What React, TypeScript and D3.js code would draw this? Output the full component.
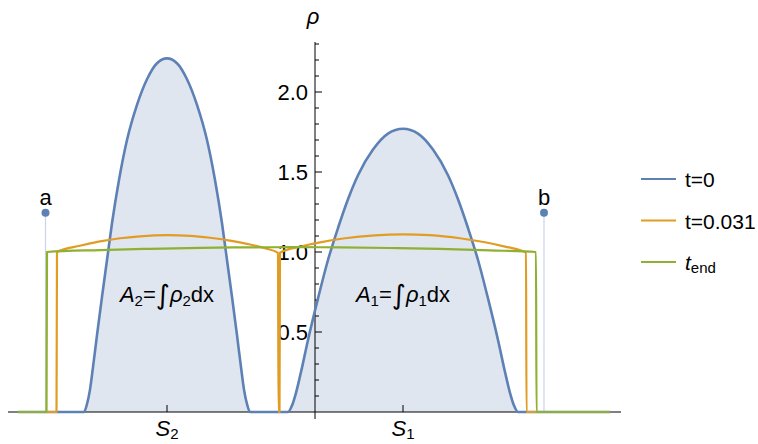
import React from "react";
import * as d3 from "d3";

// x in plot units, rho values
const blueX = [-2.97, -2.31, -2.28, -2.25, -2.22, -2.18, -2.13, -2.08, -2.03, -1.96, -1.88, -1.78, -1.68, -1.58, -1.48, -1.38, -1.28, -1.18, -1.08, -1.0, -0.93, -0.88, -0.83, -0.78, -0.74, -0.71, -0.68, -0.65,
  -0.27, -0.23, -0.19, -0.14, -0.07, 0.03, 0.13, 0.23, 0.33, 0.43, 0.58, 0.73, 0.88, 1.03, 1.18, 1.33, 1.43, 1.53, 1.63, 1.73, 1.83, 1.9, 1.95, 1.99, 2.03, 2.95];
const blueY = [0, 0, 0.05, 0.14, 0.28, 0.48, 0.72, 0.95, 1.18, 1.45, 1.7, 1.92, 2.08, 2.18, 2.21, 2.18, 2.08, 1.92, 1.7, 1.45, 1.18, 0.95, 0.72, 0.48, 0.28, 0.14, 0.05, 0,
  0, 0.04, 0.12, 0.25, 0.45, 0.71, 0.95, 1.15, 1.33, 1.48, 1.64, 1.74, 1.77, 1.74, 1.64, 1.48, 1.33, 1.15, 0.95, 0.71, 0.45, 0.25, 0.12, 0.04, 0, 0];

const orangeX = [-2.97, -2.585, -2.58, -2.35, -2.15, -1.95, -1.75, -1.475, -1.25, -1.05, -0.85, -0.65, -0.5, -0.37, -0.365, -0.355, -0.35,
  -0.15, 0.05, 0.3, 0.6, 0.88, 1.15, 1.45, 1.7, 1.9, 2.11, 2.115, 2.95];
const orangeY = [0, 0, 1.0, 1.039, 1.066, 1.086, 1.098, 1.105, 1.101, 1.089, 1.071, 1.047, 1.023, 0.995, 0, 0, 0.995,
  1.033, 1.06, 1.086, 1.104, 1.11, 1.105, 1.086, 1.061, 1.034, 0.997, 0, 0];

const greenX = [-2.97, -2.685, -2.68, -2.15, -1.65, -1.15, -0.65, -0.24, 0.25, 0.75, 1.25, 1.75, 2.21, 2.215, 2.95];
const greenY = [0, 0, 1.0, 1.012, 1.02, 1.026, 1.029, 1.03, 1.029, 1.025, 1.019, 1.01, 1.0, 0, 0];

const yTickLabels = [0.5, 1.0, 1.5, 2.0];
const sPositions = [-1.48, 0.88];
const sNames = ["2", "1"];
const markerX = [-2.695, 2.29];
const markerY = [1.245, 1.245];
const markerNames = ["a", "b"];
const legendNames = ["t=0", "t=0.031", "t_end"];

const BLUE = "#5e81b5";
const ORANGE = "#e19c24";
const GREEN = "#8fb032";
const FONT = "'Liberation Sans', Arial, Helvetica, sans-serif";

export default function App() {
  const x = d3.scaleLinear().domain([-3.07, 3.06]).range([8, 621]);
  const y = d3.scaleLinear().domain([0, 2.3]).range([412, 44]);
  const zip = (xs: number[], ys: number[]) => xs.map((v, i) => [v, ys[i]] as [number, number]);
  const line = d3.line<[number, number]>().x(d => x(d[0])).y(d => y(d[1])).curve(d3.curveMonotoneX);
  const area = d3.area<[number, number]>().x(d => x(d[0])).y0(y(0)).y1(d => y(d[1])).curve(d3.curveMonotoneX);
  const blue = zip(blueX, blueY);
  const orange = zip(orangeX, orangeY);
  const green = zip(greenX, greenY);
  const minor = d3.range(1, 24).map(i => i / 10);
  const colors = [BLUE, ORANGE, GREEN];

  return (
    <svg width={758} height={444} style={{ position: "absolute", left: 0, top: 0, fontFamily: FONT }}>
      <rect width={758} height={444} fill="#fff" />
      <path d={area(blue) || ""} fill={BLUE} fillOpacity={0.2} />
      {markerX.map((mx, i) => (
        <line key={"ml" + i} x1={x(mx)} x2={x(mx)} y1={y(markerY[i])} y2={y(0)} stroke="#c9d4e8" strokeWidth={1.2} />
      ))}
      {/* axes */}
      <line x1={8} x2={621} y1={y(0)} y2={y(0)} stroke="#000" strokeWidth={1} />
      <line x1={x(0)} x2={x(0)} y1={42} y2={419} stroke="#000" strokeWidth={1} />
      {minor.map(v => {
        const major = Math.abs(v * 2 - Math.round(v * 2)) < 1e-6;
        return <line key={"t" + v} x1={x(0)} x2={x(0) + (major ? 7 : 4)} y1={y(v)} y2={y(v)} stroke="#000" strokeWidth={1} />;
      })}
      {yTickLabels.map(v => (
        <text key={"yl" + v} x={308} y={y(v)} dy="0.36em" textAnchor="end" fontSize={22}>{v.toFixed(1)}</text>
      ))}
      {sPositions.map((s, i) => (
        <g key={"s" + i}>
          <line x1={x(s)} x2={x(s)} y1={y(0)} y2={y(0) - 7} stroke="#000" strokeWidth={1} />
          <text x={x(s)} y={436} textAnchor="middle" fontSize={22}>
            <tspan fontStyle="italic">S</tspan>
            <tspan fontSize={15} dy={3}>{sNames[i]}</tspan>
          </text>
        </g>
      ))}
      <text x={313} y={24} textAnchor="middle" fontSize={22} fontStyle="italic">ρ</text>
      {/* lines */}
      <path d={line(blue) || ""} fill="none" stroke={BLUE} strokeWidth={2.6} strokeLinejoin="round" />
      <path d={line(orange) || ""} fill="none" stroke={ORANGE} strokeWidth={2.2} strokeLinejoin="round" />
      <path d={line(green) || ""} fill="none" stroke={GREEN} strokeWidth={2.2} strokeLinejoin="round" />
      {markerX.map((mx, i) => (
        <g key={"m" + i}>
          <circle cx={x(mx)} cy={y(markerY[i])} r={4} fill={BLUE} />
          <text x={x(mx)} y={205} textAnchor="middle" fontSize={22}>{markerNames[i]}</text>
        </g>
      ))}
      {/* area labels */}
      {sPositions.map((s, i) => (
        <text key={"A" + i} x={x(s)} y={302} textAnchor="middle" fontSize={22}>
          <tspan fontStyle="italic">A</tspan>
          <tspan fontSize={15} dy={4}>{sNames[i]}</tspan>
          <tspan dy={-4}>=</tspan>
          <tspan fontSize={27} fontFamily="'DejaVu Sans', sans-serif" dy={2}>∫</tspan>
          <tspan fontStyle="italic" dy={-2}>ρ</tspan>
          <tspan fontSize={15} dy={4}>{sNames[i]}</tspan>
          <tspan dy={-4}>dx</tspan>
        </text>
      ))}
      {/* legend */}
      {legendNames.map((n, i) => {
        const ly = 179 + i * 41.5;
        return (
          <g key={"lg" + i}>
            <line x1={641} x2={676} y1={ly} y2={ly} stroke={colors[i]} strokeWidth={2.2} />
            {n === "t_end" ? (
              <text x={685} y={ly + 8} fontSize={21}>
                <tspan fontStyle="italic">t</tspan>
                <tspan fontSize={15} dy={3}>end</tspan>
              </text>
            ) : (
              <text x={685} y={ly + 8} fontSize={21}>{n}</text>
            )}
          </g>
        );
      })}
    </svg>
  );
}
